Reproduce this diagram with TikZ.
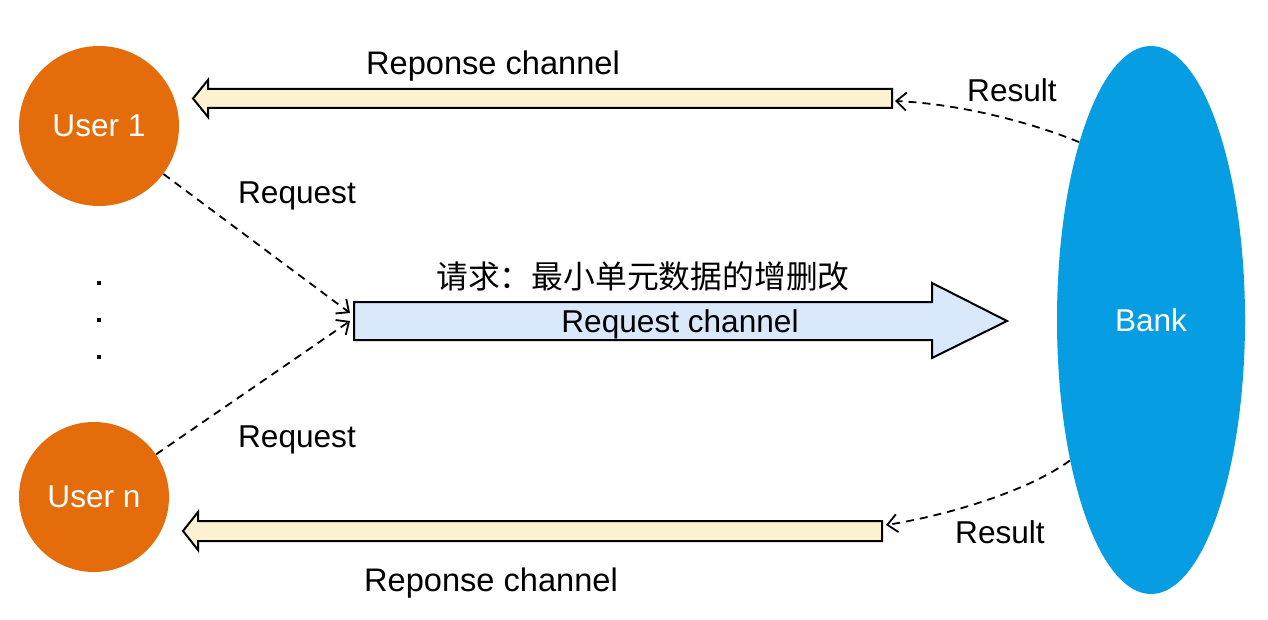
\documentclass[tikz,border=0pt]{standalone}
\usepackage{fontspec}
\setmainfont{Liberation Sans}
\newfontfamily\cjk{Noto Sans CJK SC}
\usetikzlibrary{arrows.meta,shapes.geometric}
\definecolor{userorange}{HTML}{E56C0B}
\definecolor{bankblue}{HTML}{069DE3}
\definecolor{resfill}{HTML}{FCF1D0}
\definecolor{reqfill}{HTML}{DAE8FC}
\begin{document}
\begin{tikzpicture}[x=0.5pt,y=-0.5pt,
  lbl/.style={font=\fontsize{15.8}{19}\selectfont, inner sep=0pt},
  biglbl/.style={font=\fontsize{16.3}{19}\selectfont, inner sep=0pt},
  user/.style={circle, fill=userorange, text=white, inner sep=0pt, lbl},
  bankshape/.style={ellipse, fill=bankblue, text=white, inner sep=0pt, lbl, minimum width=94pt, minimum height=274pt},
  chan/.style={draw=black, line width=1pt, line join=miter},
  link/.style={draw=black, line width=0.9pt, dash pattern=on 4pt off 3pt, -{Straight Barb[length=5pt,width=9pt]}},
  dotmark/.style={fill=black, inner sep=0pt, minimum size=2pt}
]
\path[use as bounding box] (0,0) rectangle (1268,620);

% users and bank
\node[user, minimum size=80pt] (u1) at (99,126) {User 1};
\node[user, minimum size=75pt] (un) at (94,497) {User n};
\node[bankshape] (bank) at (1151,320) {Bank};

% dots
\node[dotmark] (d1) at (99,283) {};
\node[dotmark] (d2) at (99,320) {};
\node[dotmark] (d3) at (99,357) {};

% response channels
\draw[chan, fill=resfill] (892,89) -- (208,89) -- (208,80) -- (193,98.5) -- (208,117) -- (208,108) -- (892,108) -- cycle;
\draw[chan, fill=resfill] (882,521) -- (198,521) -- (198,512) -- (183,531) -- (198,550) -- (198,541) -- (882,541) -- cycle;
% request channel
\draw[chan, fill=reqfill] (354,302) -- (932,302) -- (932,283) -- (1007,321) -- (932,358) -- (932,340) -- (354,340) -- cycle;

\coordinate (r1) at (350,313);
\coordinate (r2) at (350,321);
\coordinate (t1) at (895,101);
\coordinate (t2) at (886,525);

% labels
\node[biglbl] (resp1lbl) at (493,66) {Reponse channel};
\node[biglbl] (resp2lbl) at (491,583) {Reponse channel};
\node[lbl] (req1lbl) at (297,196) {Request};
\node[lbl] (req2lbl) at (297,440) {Request};
\node[lbl] (res1lbl) at (1012,90) {Result};
\node[lbl] (res2lbl) at (1000,532) {Result};
\node[lbl] (reqchlbl) at (680,324) {Request channel};
\node[inner sep=0pt, font=\cjk\fontsize{15.9}{19}\selectfont] (cn) at (643,276) {请求：最小单元数据的增删改};

% connectors
\draw[link] (u1) -- (r1);
\draw[link] (un) -- (r2);
\draw[link] (bank.112.5) .. controls (1030,122) and (960,104) .. (t1);
\draw[link] (bank.240.5) .. controls (1030,490) and (950,515) .. (t2);
\end{tikzpicture}
\end{document}
